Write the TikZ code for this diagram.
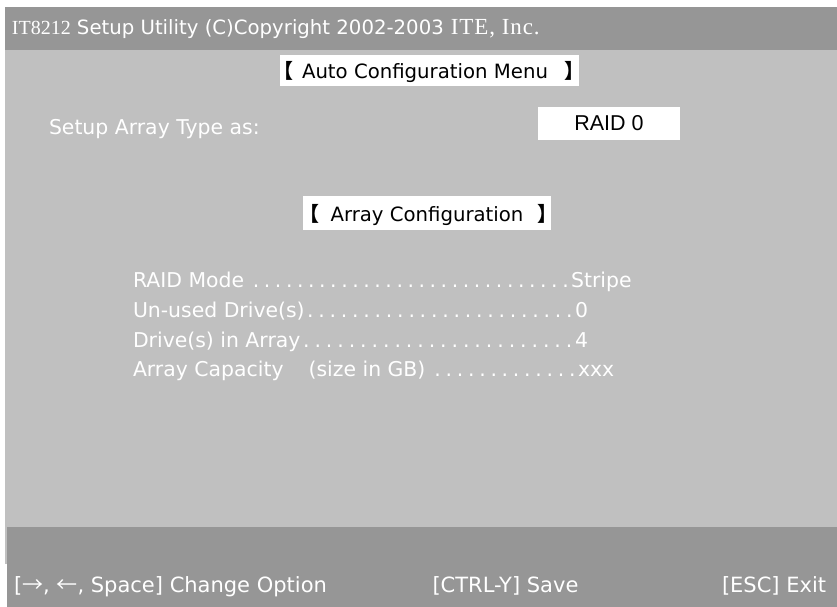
\documentclass[tikz,border=0pt]{standalone}
\usepackage{fontspec}
\setmainfont{DejaVu Sans}
\newfontfamily\cjkfont{Noto Sans CJK JP}
\newfontfamily\romanfont{Liberation Serif}
\newfontfamily\romanwide{Liberation Serif}[LetterSpace=4]
\newfontfamily\arialfont{Liberation Sans}
\definecolor{bardark}{RGB}{150,150,150}
\definecolor{panelgray}{RGB}{192,192,192}
% one dotted settings row: label, dot leaders up to a fixed width, value
\newcommand{\setrow}[3]{\hbox to #1pt{#2\xleaders\hbox to 11pt{\hss.\hss}\hfill}#3}
\begin{document}
\begin{tikzpicture}[x=1pt,y=-1pt,
  every node/.style={inner sep=0pt, outer sep=0pt},
  screentext/.style={anchor=base west, text=white, font=\fontsize{20.4}{24}\selectfont},
  keytext/.style={screentext, font=\fontsize{21}{24}\selectfont},
  boxtext/.style={anchor=base, text=black, font=\fontsize{19.7}{24}\selectfont},
  whitebox/.style={fill=white, draw=none, anchor=north west},
  bracket/.style={anchor=base west, text=black, font=\cjkfont\bfseries\fontsize{20}{24}\selectfont}]
\useasboundingbox (0,0) rectangle (837,607);
\fill[white] (0,0) rectangle (837,607);
% title bar, main panel, key bar
\fill[bardark] (5,7) rectangle (837,50);
\fill[panelgray] (5,50) rectangle (837,527);
\fill[panelgray] (5,527) rectangle (7,564);
\fill[bardark] (7,527) rectangle (837,607);

% title
\node[screentext] (title) at (12,35)
  {\makebox[65pt][l]{\romanfont\fontsize{20}{24}\selectfont IT8212}{\fontsize{19.7}{24}\selectfont Setup Utility (C)Copyright 2002-2003}\hspace{7pt}{\romanwide\fontsize{23}{24}\selectfont ITE, Inc.}};

% auto configuration header
\node[whitebox, minimum width=299pt, minimum height=31pt] (autobox) at (280,55) {};
\node[bracket] (autol) at (273,79) {【};
\node[boxtext] (autotext) at (425,79) {Auto Configuration Menu};
\node[bracket] (autor) at (564,79) {】};

% array type selection
\node[screentext] (setuptype) at (49,134) {Setup Array Type as:};
\node[whitebox, minimum width=142pt, minimum height=33pt] (raidbox) at (538,107) {};
\node[boxtext, font=\arialfont\fontsize{21.5}{24}\selectfont] (raidval) at (609,131) {RAID 0};

% array configuration header
\node[whitebox, minimum width=248pt, minimum height=34pt] (arraybox) at (303,196) {};
\node[bracket] (arrayl) at (299,221) {【};
\node[boxtext] (arraytext) at (427,221) {Array Configuration};
\node[bracket] (arrayr) at (537,221) {】};

% settings list
\node[screentext] (rowmode) at (133,287) {\setrow{438}{RAID Mode }{Stripe}};
\node[screentext] (rowunused) at (133,317) {\setrow{442}{Un-used Drive(s)}{0}};
\node[screentext] (rowdrives) at (133,347) {\setrow{442}{Drive(s) in Array}{4}};
\node[screentext] (rowcap) at (133,376) {\setrow{445}{Array Capacity\hspace{25pt}(size in GB) }{xxx}};

% key help line
\node[keytext] (keyopt) at (14,592) {[{\cjkfont →}, {\cjkfont ←}, Space] Change Option};
\node[keytext, anchor=base] (keysave) at (505.5,592) {[CTRL-Y] Save};
\node[keytext] (keyexit) at (722,592) {[ESC] Exit};
\end{tikzpicture}
\end{document}
